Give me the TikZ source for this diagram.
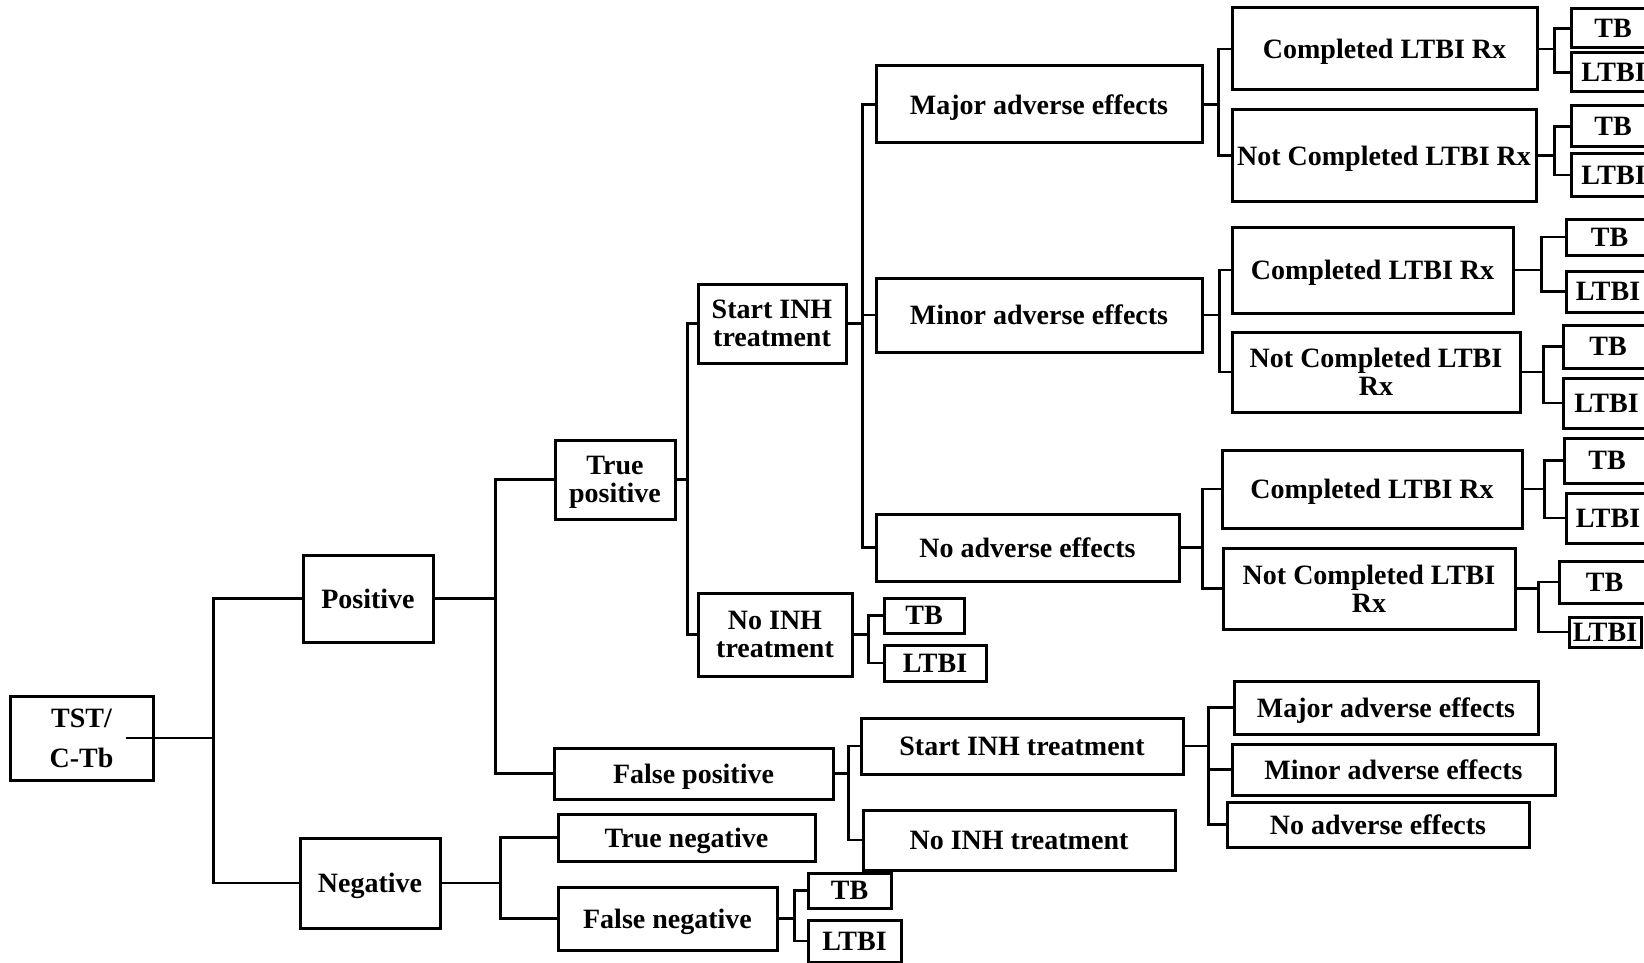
\documentclass[tikz,border=0pt]{standalone}
\usepackage{fontspec}
\setmainfont{Liberation Serif}
\usetikzlibrary{calc}
\tikzset{
  box/.style={draw, line width=3pt, inner sep=0pt, align=center, text depth=0pt,
    font=\fontsize{28}{28}\selectfont\bfseries},
  conn/.style={line width=2.8pt}
}
% name, left, top, right, bottom, text
\newcommand\BX[6]{\node[box, minimum width={(#4-#2)*1pt}, minimum height={(#5-#3)*1pt}] (#1) at ({(#2+#4)/2},{(#3+#5)/2}) {#6};}
% parent, trunk offset, children
\newcommand\CN[3]{\foreach \c in {#3} {\draw[conn] (#1.east) -- ++(#2,0) |- (\c.west);}}
\begin{document}
\begin{tikzpicture}[x=1pt,y=-1pt]
\useasboundingbox (0,0) rectangle (1644,963);
\clip (0,0) rectangle (1644,963);
\fill[white] (0,0) rectangle (1644,963);

\node[box, font=\fontsize{28}{40}\selectfont\bfseries, minimum width=143pt, minimum height=84pt] (tst) at (81.5,738) {TST/\\C-Tb};
\BX{pos}{303}{555}{433}{642}{Positive}
\BX{neg}{300}{838}{440}{928}{Negative}
\BX{tp}{555}{440}{675}{519}{True\\positive}
\BX{fp}{554}{748}{833}{799}{False positive}
\BX{tn}{558}{814}{815}{861}{True negative}
\BX{fn}{558}{887}{777}{950}{False negative}
\BX{sinh}{698}{284}{846}{363}{Start INH\\treatment}
\BX{ninh}{698}{593}{852}{676}{No INH\\treatment}
\BX{maj}{876}{66}{1202}{143}{Major adverse effects}
\BX{min}{876}{278}{1202}{352}{Minor adverse effects}
\BX{noa}{876}{514}{1179}{581}{No adverse effects}
\BX{ca}{1232}{8}{1537}{90}{Completed LTBI Rx}
\BX{na}{1232}{110}{1536}{201}{Not Completed LTBI Rx}
\BX{cb}{1232}{227}{1513}{313}{Completed LTBI Rx}
\BX{nb}{1232}{332}{1520}{412}{Not Completed LTBI\\Rx}
\BX{cc}{1222}{450}{1522}{528}{Completed LTBI Rx}
\BX{nc}{1223}{548}{1515}{629}{Not Completed LTBI\\Rx}
\BX{tba}{1571}{9}{1655}{48}{TB}
\BX{lta}{1571}{53}{1656}{92}{LTBI}
\BX{tbb}{1571}{106}{1655}{147}{TB}
\BX{ltb}{1571}{154}{1656}{196}{LTBI}
\BX{tbc}{1566}{219}{1653}{255}{TB}
\BX{ltc}{1566}{271}{1650}{312}{LTBI}
\BX{tbd}{1563}{325}{1653}{368}{TB}
\BX{ltd}{1563}{378}{1650}{428}{LTBI}
\BX{tbe}{1564}{438}{1650}{483}{TB}
\BX{lte}{1566}{493}{1650}{543}{LTBI}
\BX{tbf}{1559}{561}{1650}{603}{TB}
\BX{ltf}{1569}{617}{1641}{647}{LTBI}
\BX{tbn}{884}{598}{964}{633}{TB}
\BX{ltn}{884}{645}{986}{681}{LTBI}
\BX{tbg}{808}{873}{891}{908}{TB}
\BX{ltg}{808}{920}{901}{962}{LTBI}
\BX{sinhb}{861}{718}{1183}{774}{Start INH treatment}
\BX{ninhb}{863}{810}{1175}{870}{No INH treatment}
\BX{majb}{1234}{681}{1538}{734}{Major adverse effects}
\BX{minb}{1232}{744}{1555}{795}{Minor adverse effects}
\BX{noab}{1227}{802}{1529}{847}{No adverse effects}

% connectors
\foreach \c in {pos,neg} {\draw[conn] ([xshift=-29pt]tst.east) -- ++(88,0) |- (\c.west);}
\CN{pos}{61}{tp,fp}
\CN{neg}{59}{tn,fn}
\CN{tp}{11}{sinh,ninh}
\CN{sinh}{15}{maj,min,noa}
\CN{ninh}{15}{tbn,ltn}
\CN{fp}{14}{sinhb,ninhb}
\CN{fn}{16}{tbg,ltg}
\CN{maj}{15}{ca,na}
\CN{min}{16}{cb,nb}
\CN{noa}{22}{cc,nc}
\CN{ca}{16}{tba,lta}
\CN{na}{17}{tbb,ltb}
\CN{cb}{27}{tbc,ltc}
\CN{nb}{22}{tbd,ltd}
\CN{cc}{21}{tbe,lte}
\CN{nc}{22}{tbf,ltf}
\CN{sinhb}{24}{majb,minb,noab}
\end{tikzpicture}
\end{document}
